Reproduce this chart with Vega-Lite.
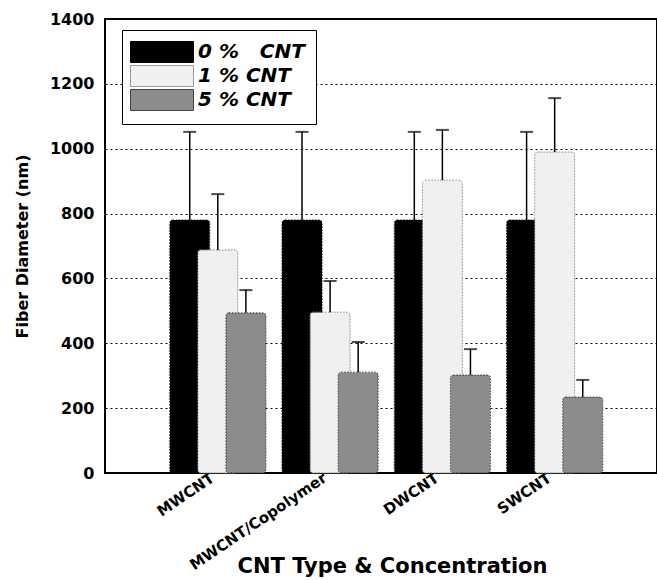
{
  "$schema": "https://vega.github.io/schema/vega-lite/v6.json",
  "width": 552,
  "height": 454,
  "autosize": {"type": "none"},
  "padding": {"left": 105, "top": 19, "right": 0, "bottom": 107},
  "config": {
    "font": "DejaVu Sans",
    "view": {"stroke": "black", "strokeWidth": 2}
  },
  "data": {
    "values": [
      {"type": "MWCNT", "conc": "0 %  CNT", "value": 780, "upper": 1052},
      {"type": "MWCNT", "conc": "1 % CNT", "value": 688, "upper": 860},
      {"type": "MWCNT", "conc": "5 % CNT", "value": 494, "upper": 564},
      {"type": "MWCNT/Copolymer", "conc": "0 %  CNT", "value": 780, "upper": 1052},
      {"type": "MWCNT/Copolymer", "conc": "1 % CNT", "value": 496, "upper": 592},
      {"type": "MWCNT/Copolymer", "conc": "5 % CNT", "value": 311, "upper": 404},
      {"type": "DWCNT", "conc": "0 %  CNT", "value": 780, "upper": 1052},
      {"type": "DWCNT", "conc": "1 % CNT", "value": 903, "upper": 1058},
      {"type": "DWCNT", "conc": "5 % CNT", "value": 302, "upper": 382},
      {"type": "SWCNT", "conc": "0 %  CNT", "value": 780, "upper": 1052},
      {"type": "SWCNT", "conc": "1 % CNT", "value": 990, "upper": 1156},
      {"type": "SWCNT", "conc": "5 % CNT", "value": 234, "upper": 287}
    ]
  },
  "encoding": {
    "x": {
      "field": "type",
      "type": "nominal",
      "sort": ["MWCNT", "MWCNT/Copolymer", "DWCNT", "SWCNT"],
      "scale": {"paddingInner": 0.25, "paddingOuter": 0.583, "align": 0.54},
      "axis": {
        "labelAngle": -34,
        "labelFontSize": 15,
        "labelFontWeight": "bold",
        "labelColor": "black",
        "labelPadding": -3,
        "labelOffset": -9,
        "labelLimit": 0,
        "labelOverlap": false,
        "ticks": false,
        "domain": false,
        "grid": false,
        "title": "CNT Type & Concentration",
        "titleFontSize": 21,
        "titleFontWeight": "bold",
        "titleColor": "black",
        "titleX": 287,
        "titleY": 82,
        "titleBaseline": "top",
        "titleAlign": "center"
      }
    },
    "xOffset": {
      "field": "conc",
      "type": "nominal",
      "sort": ["0 %  CNT", "1 % CNT", "5 % CNT"],
      "scale": {"paddingInner": 0, "paddingOuter": 0}
    }
  },
  "layer": [
    {
      "mark": {"type": "bar", "size": 40, "cornerRadius": 3, "strokeWidth": 1, "strokeDash": [1.5, 1.5]},
      "encoding": {
        "y": {
          "field": "value",
          "type": "quantitative",
          "scale": {"domain": [0, 1400]},
          "axis": {
            "values": [0, 200, 400, 600, 800, 1000, 1200, 1400],
            "format": "d",
            "grid": true,
            "gridDash": [2, 3],
            "gridColor": "black",
            "gridOpacity": 1,
            "gridWidth": 1,
            "ticks": false,
            "domain": false,
            "labelFontSize": 16,
            "labelFontWeight": "bold",
            "labelColor": "black",
            "labelPadding": 11,
            "title": "Fiber Diameter (nm)",
            "titleFontSize": 16,
            "titleFontWeight": "bold",
            "titleColor": "black",
            "titlePadding": 19
          }
        },
        "color": {
          "field": "conc",
          "type": "nominal",
          "sort": ["0 %  CNT", "1 % CNT", "5 % CNT"],
          "scale": {"domain": ["0 %  CNT", "1 % CNT", "5 % CNT"], "range": ["#000000", "#f0f0f0", "#8c8c8c"]},
          "legend": {
            "orient": "none",
            "legendX": 17,
            "legendY": 11,
            "title": null,
            "direction": "vertical",
            "strokeColor": "black",
            "fillColor": "white",
            "padding": 11,
            "rowPadding": -6,
            "symbolType": "M-3,-1L3,-1L3,1L-3,1Z",
            "symbolSize": 441,
            "symbolOffset": 18,
            "symbolOpacity": 1,
            "symbolStrokeColor": "#666666",
            "symbolStrokeWidth": 1,
            "labelOffset": 25,
            "labelExpr": "replace(datum.label, '  ', '\u00a0\u00a0\u00a0')",
            "labelFontSize": 20,
            "labelFontStyle": "italic",
            "labelFontWeight": "bold",
            "labelColor": "black"
          }
        },
        "stroke": {
          "field": "conc",
          "type": "nominal",
          "scale": {"domain": ["0 %  CNT", "1 % CNT", "5 % CNT"], "range": ["#000000", "#9a9a9a", "#444444"]},
          "legend": null
        }
      }
    },
    {
      "mark": {"type": "rule", "color": "black", "strokeWidth": 1.5},
      "encoding": {
        "y": {"field": "value", "type": "quantitative"},
        "y2": {"field": "upper"}
      }
    },
    {
      "mark": {"type": "tick", "color": "black", "size": 13, "thickness": 2},
      "encoding": {
        "y": {"field": "upper", "type": "quantitative"}
      }
    }
  ]
}
